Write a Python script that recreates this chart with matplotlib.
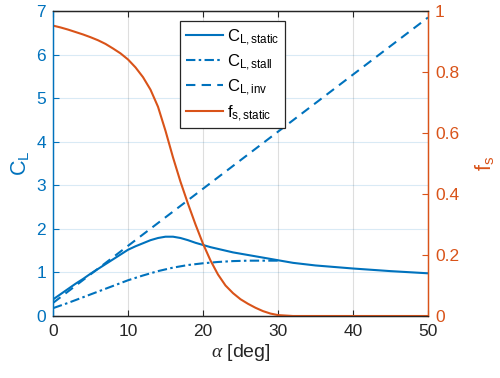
import matplotlib.pyplot as plt

# angle of attack [deg] and static curves
alpha = [0, 1, 2, 3, 4, 5, 6, 7, 8, 9, 10, 11, 12, 13, 14, 15, 16, 17, 18, 19, 20,
         21, 22, 23, 24, 25, 26, 27, 28, 29, 30, 32, 35, 40, 45, 50]
cl_static = [0.38, 0.50, 0.62, 0.74, 0.85, 0.97, 1.08, 1.19, 1.30, 1.41, 1.52, 1.60,
             1.67, 1.74, 1.79, 1.82, 1.82, 1.79, 1.74, 1.68, 1.63, 1.58, 1.54, 1.50,
             1.46, 1.43, 1.40, 1.37, 1.34, 1.31, 1.28, 1.22, 1.16, 1.09, 1.03, 0.98]
fs_static = [0.952, 0.946, 0.939, 0.931, 0.923, 0.914, 0.904, 0.892, 0.877, 0.861,
             0.841, 0.815, 0.783, 0.742, 0.686, 0.607, 0.52, 0.44, 0.368, 0.30, 0.237,
             0.182, 0.136, 0.10, 0.075, 0.055, 0.04, 0.027, 0.016, 0.008, 0.003,
             0.0, 0.0, 0.0, 0.0, 0.0]

alpha_stall = [0, 2, 4, 6, 8, 10, 12, 14, 16, 18, 20, 22, 24, 26, 28, 30]
cl_stall = [0.18, 0.30, 0.43, 0.56, 0.69, 0.82, 0.93, 1.03, 1.11, 1.17, 1.21, 1.24,
            1.26, 1.27, 1.27, 1.27]

alpha_inv = [0, 50]
cl_inv = [0.30, 6.85]

xticks = [0, 10, 20, 30, 40, 50]
yticks_left = [0, 1, 2, 3, 4, 5, 6, 7]
yticks_right = [0, 0.2, 0.4, 0.6, 0.8, 1]

blue = '#0072BD'
orange = '#D95319'
dark = '#262626'

plt.rcParams['font.family'] = 'Liberation Sans'
plt.rcParams['mathtext.fontset'] = 'custom'
plt.rcParams['mathtext.rm'] = 'Liberation Sans'
plt.rcParams['mathtext.sf'] = 'Liberation Sans'
plt.rcParams['mathtext.it'] = 'Liberation Serif:italic'

fig = plt.figure(figsize=(5, 3.78), dpi=100)
ax = fig.add_axes([0.106, 0.164, 0.75, 0.807])
ax2 = ax.twinx()

lw = 1.5
l1, = ax.plot(alpha, cl_static, color=blue, lw=lw)
l2, = ax.plot(alpha_stall, cl_stall, color=blue, lw=lw, dashes=(4.5, 1.6, 1.2, 1.6))
l3, = ax.plot(alpha_inv, cl_inv, color=blue, lw=lw, dashes=(4.5, 3))
l4, = ax2.plot(alpha, fs_static, color=orange, lw=lw)

ax.set_xlim(0, 50)
ax.set_ylim(0, 7)
ax2.set_ylim(0, 1)
ax.set_xticks(xticks)
ax.set_yticks(yticks_left)
ax2.set_yticks(yticks_right)
ax2.set_yticklabels(['0', '0.2', '0.4', '0.6', '0.8', '1'])

# grid: horizontal tinted like the left axis, vertical gray
ax.grid(axis='y', color=blue, alpha=0.15, lw=0.8)
ax.grid(axis='x', color=dark, alpha=0.15, lw=0.8)
ax.set_axisbelow(True)

fs = 12.5
ax.tick_params(axis='x', direction='in', top=True, length=4, labelsize=fs,
               colors=dark, pad=6)
ax.tick_params(axis='y', direction='in', length=4, labelsize=fs, colors=blue, pad=5)
ax2.tick_params(axis='y', direction='in', length=4, labelsize=fs, colors=orange, pad=5)

for a in (ax, ax2):
    a.spines['top'].set_color(dark)
    a.spines['bottom'].set_color(dark)
    a.spines['left'].set_color(blue)
    a.spines['right'].set_color(orange)
    for s in a.spines.values():
        s.set_linewidth(0.9)

ax.set_xlabel(r'$\alpha$ [deg]', fontsize=14, color=dark, labelpad=2)
ax.set_ylabel(r'C$_\mathregular{L}$', fontsize=15.5, color=blue, labelpad=4)
ax2.set_ylabel(r'f$_\mathregular{s}$', fontsize=15.5, color=orange, labelpad=10)

handles = [l1, l2, l3, l4]
labels = [r'C$_\mathregular{L,static}$', r'C$_\mathregular{L,stall}$',
          r'C$_\mathregular{L,inv}$', r'f$_\mathregular{s,static}$']
leg = ax2.legend(handles, labels, loc='upper left', bbox_to_anchor=(0.339, 0.968),
                 fontsize=12, frameon=True, fancybox=False, framealpha=1,
                 edgecolor=dark, handlelength=2.2, handletextpad=0.25,
                 labelspacing=0.32, borderpad=0.35, borderaxespad=0)
leg.get_frame().set_linewidth(0.9)

fig.savefig('out.png', dpi=100)
